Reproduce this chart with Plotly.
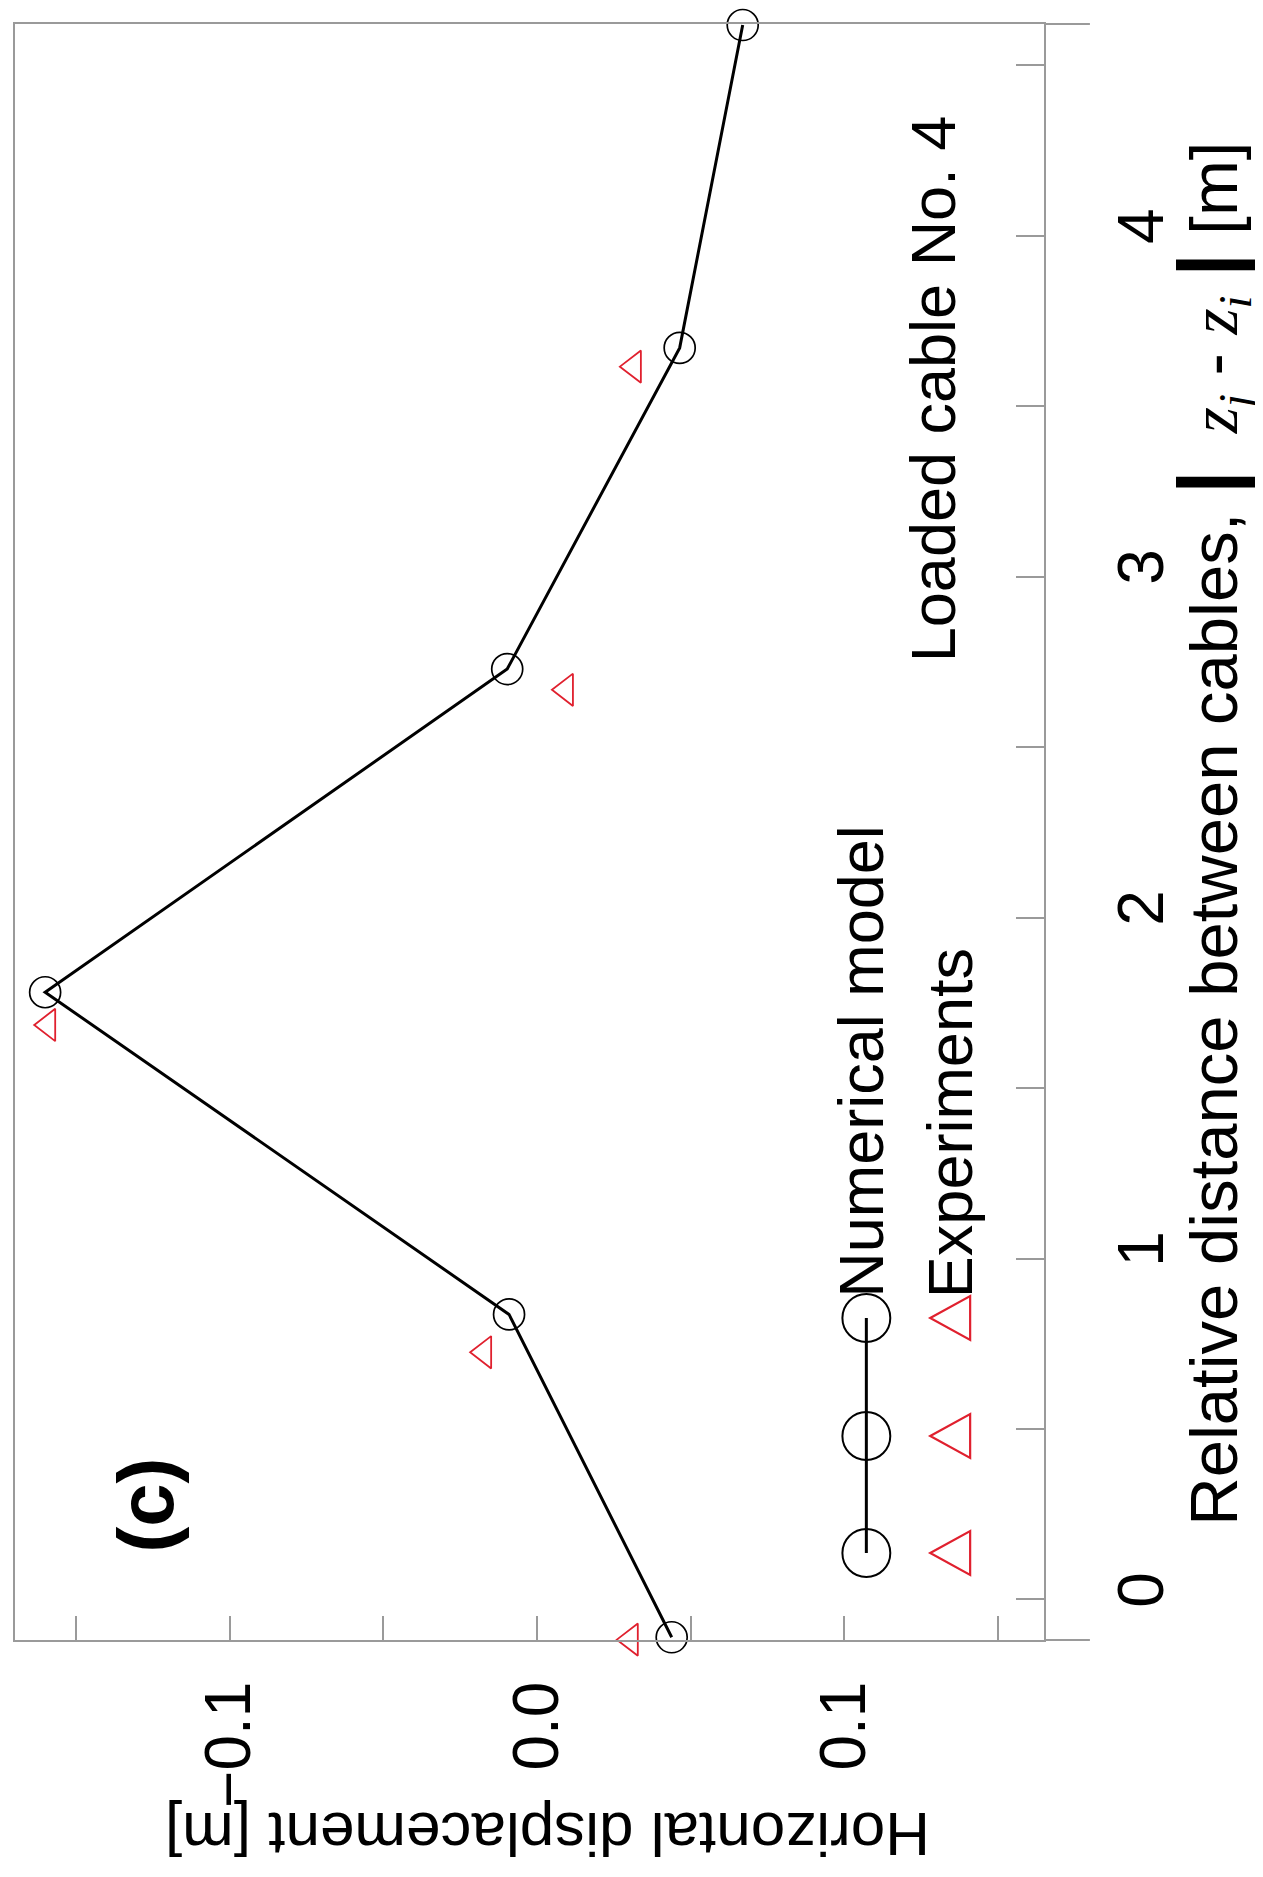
import plotly.graph_objects as go

# Data (plot drawn rotated: displacement runs left-right, distance runs bottom-top)
model_distance = [-0.111, 0.836, 1.781, 2.729, 3.671, 4.618]
model_displacement = [0.0438, -0.0091, -0.160, -0.0097, 0.0464, 0.0669]

exp_distance = [-0.118, 0.725, 1.685, 2.668, 3.616]
exp_displacement = [0.0305, -0.0172, -0.159, 0.0094, 0.0315]

disp_ticks = [-0.1, 0.0, 0.1]
disp_minor_ticks = [-0.15, -0.05, 0.05, 0.15]
dist_ticks = [0, 1, 2, 3, 4]
dist_minor_ticks = [0.5, 1.5, 2.5, 3.5, 4.5]

# Constants
WIDTH = 1263
HEIGHT = 1877
PAGE_PAD = 8  # the html body margin pushes the figure right/down
LEFT, RIGHT, TOP, BOTTOM = 13, 1044, 24, 1640
AXIS_COLOR = "#9a9a9a"
RED = "#e0202e"
FONT = "Arial, Liberation Sans, sans-serif"
SERIF = "Times New Roman, Liberation Serif, serif"


def px(x, y):
    # pixel position on the page -> paper coordinates
    return (x - LEFT) / (RIGHT - LEFT), (BOTTOM - y) / (BOTTOM - TOP)


fig = go.Figure()

fig.add_trace(
    go.Scatter(
        x=model_displacement,
        y=model_distance,
        mode="lines+markers",
        line=dict(color="black", width=3),
        marker=dict(symbol="circle-open", size=31, color="black", line=dict(width=1.7)),
        cliponaxis=False,
        name="Numerical model",
    )
)

fig.add_trace(
    go.Scatter(
        x=exp_displacement,
        y=exp_distance,
        mode="markers",
        marker=dict(symbol="triangle-left-open", size=28, color=RED, line=dict(width=1.8)),
        cliponaxis=False,
        name="Experiments",
    )
)

shapes = []
# top and bottom frame lines run a little past the right axis
for yy in (0, 1):
    shapes.append(dict(type="line", xref="paper", yref="paper", x0=1, x1=px(1090, 0)[0],
                       y0=yy, y1=yy, line=dict(color=AXIS_COLOR, width=2)))

# rotated legend
leg_y = [1318, 1436, 1553]
x0, y0 = px(866, leg_y[0])
x1, y1 = px(866, leg_y[-1])
shapes.append(dict(type="line", xref="paper", yref="paper", x0=x0, x1=x1, y0=y0, y1=y1,
                   line=dict(color="black", width=3)))
for ly in leg_y:
    a = px(842, ly - 24)
    b = px(890, ly + 24)
    shapes.append(dict(type="circle", xref="paper", yref="paper", x0=a[0], x1=b[0],
                       y0=b[1], y1=a[1], line=dict(color="black", width=2)))
    tip = px(930, ly)
    top = px(970, ly - 22)
    bot = px(970, ly + 22)
    path = f"M{tip[0]},{tip[1]} L{top[0]},{top[1]} L{bot[0]},{bot[1]} Z"
    shapes.append(dict(type="path", xref="paper", yref="paper", path=path,
                       line=dict(color=RED, width=2.2)))

annotations = []


def add_text(text, x, y, angle, size, xanchor="center", yanchor="middle", bold=False):
    px_x, px_y = px(x, y)
    annotations.append(dict(
        text=f"<b>{text}</b>" if bold else text,
        x=px_x, y=px_y, xref="paper", yref="paper",
        textangle=angle, showarrow=False,
        xanchor=xanchor, yanchor=yanchor,
        font=dict(family=FONT, size=size, color="black"),
    ))


bar = '<span style="font-size:84px"><b>|</b></span>'
zj = f'<span style="font-family:{SERIF}"><i>z<sub>j</sub></i></span>'
zi = f'<span style="font-family:{SERIF}"><i>z<sub>i</sub></i></span>'
dist_title = f"Relative distance between cables, {bar}&nbsp;&nbsp;{zj} - {zi} {bar} [m]"

add_text("Numerical model", 860, 1300, -90, 63, yanchor="bottom")
add_text("Experiments", 950, 1300, -90, 63, yanchor="bottom")
add_text("Loaded cable No. 4", 933, 389, -90, 63)
add_text("(c)", 144, 1505, -90, 78, bold=True)
add_text(dist_title, 1211, 834, -90, 67)
add_text("Horizontal displacement [m]", 546, 1835, 180, 62)

axis_common = dict(
    ticks="inside",
    tickwidth=1.5,
    tickcolor=AXIS_COLOR,
    tickangle=-90,
    tickfont=dict(size=64),
    showline=True,
    linecolor=AXIS_COLOR,
    linewidth=2,
    mirror=True,
    showgrid=False,
    zeroline=False,
)

fig.update_layout(
    width=WIDTH,
    height=HEIGHT,
    margin=dict(
        l=LEFT - PAGE_PAD,
        r=WIDTH - RIGHT + PAGE_PAD,
        t=TOP - PAGE_PAD,
        b=HEIGHT - BOTTOM + PAGE_PAD,
    ),
    plot_bgcolor="white",
    paper_bgcolor="white",
    showlegend=False,
    font=dict(family=FONT, color="black"),
    shapes=shapes,
    annotations=annotations,
    xaxis=dict(
        range=[-0.1698, 0.1649],
        tickvals=disp_ticks,
        tickformat=".1f",
        ticklen=24,
        ticklabelstandoff=14,
        minor=dict(tickvals=disp_minor_ticks, ticks="inside", ticklen=24,
                   tickwidth=1.5, tickcolor=AXIS_COLOR, showgrid=False),
        **axis_common,
    ),
    yaxis=dict(
        range=[-0.119, 4.621],
        side="right",
        tickvals=dist_ticks,
        ticklen=28,
        ticklabelstandoff=40,
        minor=dict(tickvals=dist_minor_ticks, ticks="inside", ticklen=28,
                   tickwidth=1.5, tickcolor=AXIS_COLOR, showgrid=False),
        **axis_common,
    ),
)

fig.write_html("out.html")
